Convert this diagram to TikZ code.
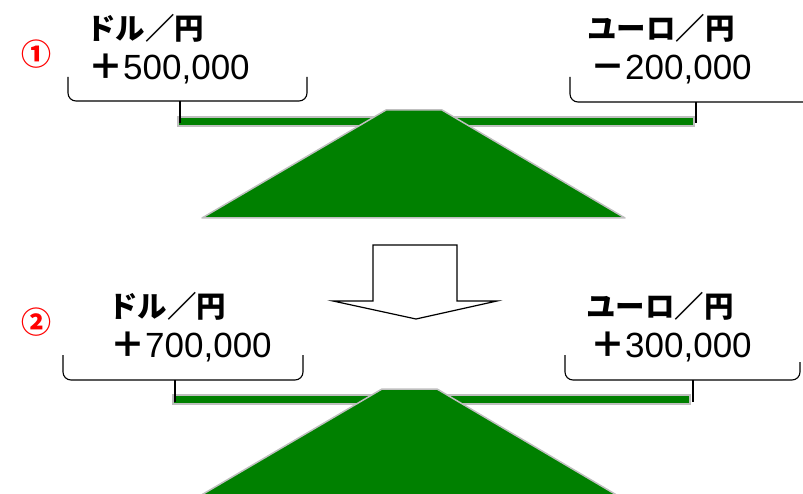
\documentclass[tikz,border=0pt]{standalone}
\usepackage{fontspec}
\setmainfont{Liberation Sans}
\newfontfamily\jp{Noto Sans CJK JP}
\definecolor{beamgreen}{HTML}{008000}
\definecolor{edgegray}{HTML}{BFBFBF}
\newcommand{\fwsign}[1]{{\jp\bfseries #1}}
\begin{document}
\begin{tikzpicture}[x=1pt,y=-1pt,
  jlabel/.style={inner sep=0pt,font=\jp\bfseries\fontsize{29.5}{31}\selectfont},
  numlabel/.style={inner sep=0pt,font=\fontsize{35}{38}\selectfont},
  circ/.style={inner sep=0pt,text=red,font=\jp\bfseries\fontsize{30}{32}\selectfont},
  brace/.style={draw=black,line width=1.1pt,rounded corners=8pt},
  tick/.style={draw=black,line width=1.4pt},
  beam/.style={fill=beamgreen,draw=edgegray,line width=1.5pt},
  fulcrum/.style={fill=beamgreen,draw=edgegray,line width=1.5pt,line join=round},
  bigarrow/.style={fill=white,draw=black,line width=1.2pt}]
\useasboundingbox (0,0) rectangle (803,494);

% ---------- section 1 ----------
\node[circ] (c1) at (36,54) {①};
\node[jlabel,anchor=base west] (d1) at (86,40) {ドル／円};
\node[numlabel,anchor=base west] (v1) at (88,80) {\fwsign{＋}500,000};
\node[jlabel,anchor=base west] (e1) at (587,40) {ユーロ／円};
\node[numlabel,anchor=base west] (w1) at (590,80) {\fwsign{－}200,000};

\draw[brace] (68,77) -- (68,101) -- (307,101) -- (307,77);
\draw[brace] (570,77) -- (570,102) -- (812,102);
\coordinate (b1l) at (180,101);
\coordinate (b1r) at (696,102);

\draw[beam] (178,117) rectangle (694,126);
\draw[fulcrum] (386,110) -- (442,110) -- (625,218) -- (202,218) -- cycle;
\coordinate (t1l) at (180,123);
\coordinate (t1r) at (696,123);
\draw[tick] (b1l) -- (t1l);
\draw[tick] (b1r) -- (t1r);

% ---------- arrow ----------
\draw[bigarrow] (373,245) -- (457,245) -- (457,301) -- (497,301) -- (416,319)
  -- (333,301) -- (373,301) -- cycle;

% ---------- section 2 ----------
\node[circ] (c2) at (36,322) {②};
\node[jlabel,anchor=base west] (d2) at (108,317) {ドル／円};
\node[numlabel,anchor=base west] (v2) at (110,357) {\fwsign{＋}700,000};
\node[jlabel,anchor=base west] (e2) at (586,317) {ユーロ／円};
\node[numlabel,anchor=base west] (w2) at (590,357) {\fwsign{＋}300,000};

\draw[brace] (63,355) -- (63,380) -- (303,380) -- (303,355);
\draw[brace] (565,355) -- (565,380) -- (800,380) -- (800,362);
\coordinate (b2l) at (175,380);
\coordinate (b2r) at (693,380);

\draw[beam] (173,395) rectangle (690,404);
\draw[fulcrum] (382,389) -- (437,389) -- (620,497) -- (198,497) -- cycle;
\coordinate (t2l) at (175,402);
\coordinate (t2r) at (693,402);
\draw[tick] (b2l) -- (t2l);
\draw[tick] (b2r) -- (t2r);
\end{tikzpicture}
\end{document}
